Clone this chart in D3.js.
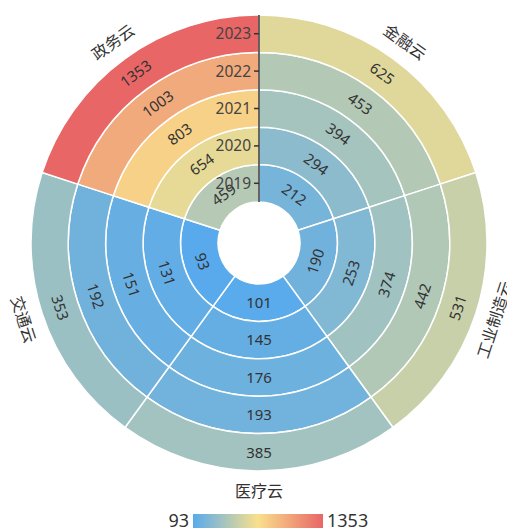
<!DOCTYPE html>
<html>
<head>
<meta charset="utf-8">
<script src="https://cdn.jsdelivr.net/npm/d3@7/dist/d3.min.js"></script>
<style>
  body { margin: 0; background: #fff; }
  svg text { font-family: "Noto Sans", "Noto Sans CJK SC", sans-serif; }
</style>
</head>
<body>
<div id="chart"></div>
<script>
// categories clockwise from 12 o'clock
var sectors = ["金融云", "工业制造云", "医疗云", "交通云", "政务云"];
var years = ["2019", "2020", "2021", "2022", "2023"];

// values per sector, by year
var jinrong = [212, 294, 394, 453, 625];
var gongye = [190, 253, 374, 442, 531];
var yiliao = [101, 145, 176, 193, 385];
var jiaotong = [93, 131, 151, 192, 353];
var zhengwu = [459, 654, 803, 1003, 1353];

var colorStops = ["#58aaec", "#f9e08c", "#e86666"];

var seriesValues = [jinrong, gongye, yiliao, jiaotong, zhengwu];
var cells = [];
for (var s = 0; s < sectors.length; s++) {
  for (var y = 0; y < years.length; y++) {
    cells.push({ sector: sectors[s], year: years[y], value: seriesValues[s][y] });
  }
}

var width = 507, height = 531;
var cx = 259, cy = 243;
var innerR = 41, outerR = 228;

var svg = d3.select("#chart").append("svg")
    .attr("width", width)
    .attr("height", height);

var g = svg.append("g").attr("transform", "translate(" + cx + "," + cy + ")");

var angle = d3.scaleBand().domain(sectors).range([0, 2 * Math.PI]);
var radius = d3.scaleBand().domain(years).range([innerR, outerR]);

var minV = d3.min(cells, function(d) { return d.value; });
var maxV = d3.max(cells, function(d) { return d.value; });
var color = d3.scaleLinear()
    .domain([minV, (minV + maxV) / 2, maxV])
    .range(colorStops)
    .interpolate(d3.interpolateRgb);

var arc = d3.arc()
    .innerRadius(function(d) { return radius(d.year); })
    .outerRadius(function(d) { return radius(d.year) + radius.bandwidth(); })
    .startAngle(function(d) { return angle(d.sector); })
    .endAngle(function(d) { return angle(d.sector) + angle.bandwidth(); });

g.selectAll("path.cell")
    .data(cells)
    .enter().append("path")
    .attr("class", "cell")
    .attr("d", arc)
    .style("fill", function(d) { return color(d.value); })
    .style("stroke", "#fff")
    .attr("stroke-width", 1.5);

// keep text readable: rotation in (-90, 90]
function readableRot(deg) {
  var r = deg % 360;
  if (r > 180) r -= 360;
  if (r > 90) r -= 180;
  if (r < -90) r += 180;
  return r;
}

function polar(a, r) {
  return [Math.sin(a) * r, -Math.cos(a) * r];
}

// value labels
g.selectAll("text.val")
    .data(cells)
    .enter().append("text")
    .attr("class", "val")
    .attr("transform", function(d) {
      var a = angle(d.sector) + angle.bandwidth() / 2;
      var p = polar(a, radius(d.year) + radius.bandwidth() / 2);
      return "translate(" + p[0] + "," + p[1] + ") rotate(" + readableRot(a * 180 / Math.PI) + ")";
    })
    .attr("text-anchor", "middle")
    .attr("dy", "0.35em")
    .style("font-size", "15px")
    .style("fill", "#333")
    .text(function(d) { return d.value; });

// sector labels outside
g.selectAll("text.sector")
    .data(sectors)
    .enter().append("text")
    .attr("class", "sector")
    .attr("transform", function(d) {
      var a = angle(d) + angle.bandwidth() / 2;
      var p = polar(a, outerR + 20);
      return "translate(" + p[0] + "," + p[1] + ") rotate(" + readableRot(a * 180 / Math.PI) + ")";
    })
    .attr("text-anchor", "middle")
    .attr("dy", "0.35em")
    .style("font-size", "16px")
    .style("fill", "#333")
    .text(function(d) { return d; });

// radial axis along 12 o'clock
var radAxis = g.append("g").attr("class", "radial-axis");
radAxis.append("line")
    .attr("x1", 0).attr("y1", -innerR)
    .attr("x2", 0).attr("y2", -outerR)
    .style("stroke", "#333")
    .attr("stroke-width", 1.5);

radAxis.selectAll("line.tick")
    .data(years)
    .enter().append("line")
    .attr("class", "tick")
    .attr("x1", -5)
    .attr("x2", 0)
    .attr("y1", function(d) { return -(radius(d) + radius.bandwidth() / 2); })
    .attr("y2", function(d) { return -(radius(d) + radius.bandwidth() / 2); })
    .style("stroke", "#333")
    .attr("stroke-width", 1.5);

radAxis.selectAll("text")
    .data(years)
    .enter().append("text")
    .attr("x", -8)
    .attr("y", function(d) { return -(radius(d) + radius.bandwidth() / 2); })
    .attr("dy", "0.35em")
    .attr("text-anchor", "end")
    .style("font-size", "15.5px")
    .style("fill", "#444")
    .text(function(d) { return d; });

// visual map legend
var legW = 130, legH = 14, legX = 193, legY = 514;
var defs = svg.append("defs");
var grad = defs.append("linearGradient").attr("id", "vm");
grad.selectAll("stop")
    .data(colorStops)
    .enter().append("stop")
    .attr("offset", function(d, i) { return (i / (colorStops.length - 1) * 100) + "%"; })
    .attr("stop-color", function(d) { return d; });

svg.append("rect")
    .attr("x", legX).attr("y", legY)
    .attr("width", legW).attr("height", legH)
    .style("fill", "url(#vm)");

svg.append("text")
    .attr("x", legX - 4).attr("y", legY + legH / 2)
    .attr("dy", "0.35em")
    .attr("text-anchor", "end")
    .style("font-size", "18px")
    .style("fill", "#333")
    .text(minV);

svg.append("text")
    .attr("x", legX + legW + 4).attr("y", legY + legH / 2)
    .attr("dy", "0.35em")
    .style("font-size", "18px")
    .style("fill", "#333")
    .text(maxV);
</script>
</body>
</html>
